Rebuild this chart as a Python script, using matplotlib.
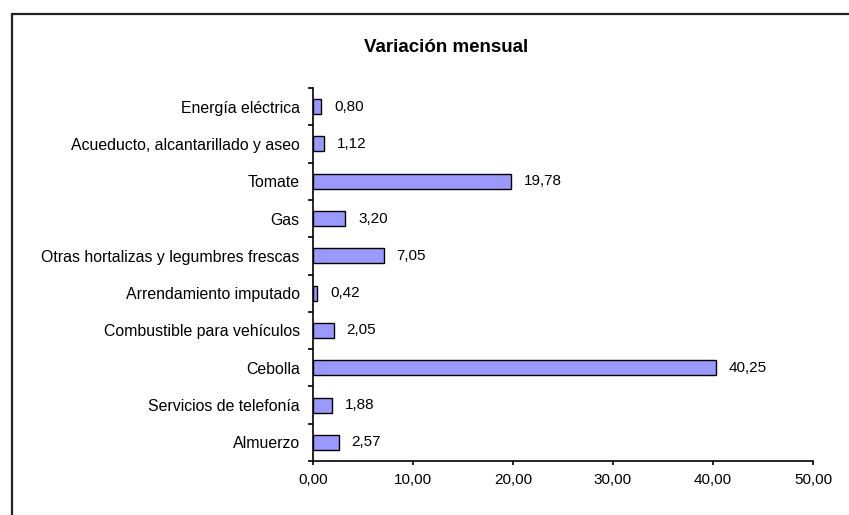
import matplotlib.pyplot as plt
from matplotlib.patches import Rectangle

plt.rcParams['font.family'] = ['Liberation Sans', 'DejaVu Sans']

categorias = ['Energía eléctrica', 'Acueducto, alcantarillado y aseo', 'Tomate', 'Gas',
              'Otras hortalizas y legumbres frescas', 'Arrendamiento imputado',
              'Combustible para vehículos', 'Cebolla', 'Servicios de telefonía', 'Almuerzo']
valores = [0.80, 1.12, 19.78, 3.20, 7.05, 0.42, 2.05, 40.25, 1.88, 2.57]
xticks = [0, 10, 20, 30, 40, 50]

fig = plt.figure(figsize=(8.49, 5.15), dpi=100)
ax = fig.add_axes([313/849, 1 - 461/515, 500/849, 373/515])

# marco del gráfico (cortado a la derecha y abajo)
fig.patches.append(Rectangle((11.5/849, -0.1), 1.2, 1.1 - 14/515, transform=fig.transFigure,
                             fill=False, edgecolor='#222222', linewidth=1.6, clip_on=False))

pos = list(range(len(categorias)))[::-1]
ax.barh(pos, valores, height=0.4, color='#9999FF', edgecolor='black', linewidth=1)
for p, v in zip(pos, valores):
    ax.text(v + 1.3, p, f'{v:.2f}'.replace('.', ','), va='center', ha='left', fontsize=11)

ax.set_xlim(0, 50)
ax.set_ylim(-0.5, len(categorias) - 0.5)
ax.set_xticks(xticks)
ax.set_xticklabels([f'{t:.2f}'.replace('.', ',') for t in xticks], fontsize=11)
ax.set_yticks(pos)
ax.set_yticklabels(categorias, fontsize=11.4)
ax.set_yticks([p + 0.5 for p in range(-1, len(categorias))], minor=True)
ax.tick_params(axis='y', which='major', length=0, pad=9.5)
ax.tick_params(axis='y', which='minor', length=3.6, width=1.2)
ax.tick_params(axis='x', length=3, width=1.2, pad=6)
ax.spines['top'].set_visible(False)
ax.spines['right'].set_visible(False)
ax.spines['left'].set_linewidth(1.2)
ax.spines['bottom'].set_linewidth(1.2)

fig.text(446/849, 1 - 47/515, 'Variación mensual', ha='center', va='center',
         fontsize=13.5, fontweight='bold')

fig.savefig('out.png', dpi=100)
